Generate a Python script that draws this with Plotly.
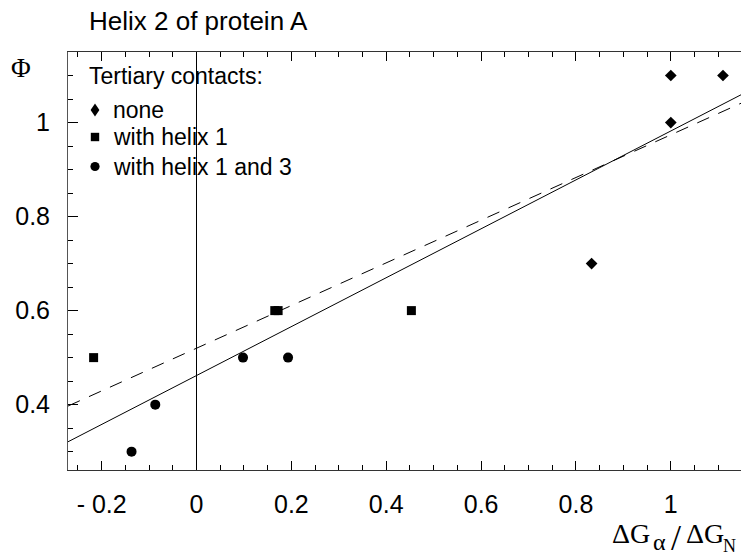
import plotly.graph_objects as go

# ---- data ----
none_x = [1.0, 1.11, 1.0, 0.833]
none_y = [1.1, 1.1, 1.0, 0.7]

helix1_x = [-0.217, 0.165, 0.172, 0.453]
helix1_y = [0.5, 0.6, 0.6, 0.6]

helix13_x = [-0.137, -0.087, 0.098, 0.193]
helix13_y = [0.3, 0.4, 0.5, 0.5]

fit_x = [-0.271, 1.148]
fit_solid_y = [0.321, 1.059]
fit_dashed_y = [0.397, 1.041]

x_tickvals = [-0.2, 0, 0.2, 0.4, 0.6, 0.8, 1.0]
x_ticktext = ["- 0.2", "0", "0.2", "0.4", "0.6", "0.8", "1"]
y_tickvals = [0.4, 0.6, 0.8, 1.0]
y_ticktext = ["0.4", "0.6", "0.8", "1"]

legend_title = "Tertiary contacts:"
legend_labels = ["none", "with helix 1", "with helix 1 and 3"]

SANS = "Liberation Sans, Arial, Helvetica, sans-serif"
SERIF = "Liberation Serif, Times New Roman, serif"

fig = go.Figure()

fig.add_trace(go.Scatter(x=fit_x, y=fit_dashed_y, mode="lines",
                         line=dict(color="black", width=1, dash="13px,10px"),
                         showlegend=False, hoverinfo="skip"))
fig.add_trace(go.Scatter(x=fit_x, y=fit_solid_y, mode="lines",
                         line=dict(color="black", width=1),
                         showlegend=False, hoverinfo="skip"))

fig.add_trace(go.Scatter(x=none_x, y=none_y, mode="markers", name=legend_labels[0],
                         marker=dict(symbol="diamond", size=9, color="black", line=dict(width=0)),
                         showlegend=False))
fig.add_trace(go.Scatter(x=helix1_x, y=helix1_y, mode="markers", name=legend_labels[1],
                         marker=dict(symbol="square", size=9, color="black", line=dict(width=0)),
                         showlegend=False))
fig.add_trace(go.Scatter(x=helix13_x, y=helix13_y, mode="markers", name=legend_labels[2],
                         marker=dict(symbol="circle", size=10, color="black", line=dict(width=0)),
                         showlegend=False))

L, T, B = 68, 52, 90
W, H = 741, 560
pw = W - L
ph = H - T - B

def px(xp):
    return (xp - L) / pw

def py(yp):
    return (H - B - yp) / ph

def ann(text, x, y, size, family, xanchor="left"):
    return dict(text=text, x=px(x), y=py(y), xref="paper", yref="paper",
                xanchor=xanchor, yanchor="middle", showarrow=False,
                font=dict(family=family, size=size, color="black"))

annotations = [
    ann("Helix 2 of protein A", 87, 21, 26, SANS),
    ann("Φ", 21, 68, 27, SERIF, "center"),
    # x-axis title: ΔG_α / ΔG_N
    ann("ΔG", 610, 533, 28, SERIF),
    ann("α", 651, 542, 24, SERIF),
    ann("/", 669, 538, 36, SERIF),
    ann("ΔG", 684, 533, 28, SERIF),
    ann("N", 721, 546, 18, SERIF),
    ann(legend_title, 87, 75.5, 23, SANS),
]
row_y = [110, 137, 166.5]
for lab, yy in zip(legend_labels, row_y):
    annotations.append(ann(lab, 110.7, yy, 23, SANS))

sx = px(95)
shapes = [
    dict(type="path", xref="paper", yref="paper", xsizemode="pixel", ysizemode="pixel",
         xanchor=sx, yanchor=py(row_y[0]), path="M0,6.5 L4.4,0 L0,-6.5 L-4.4,0 Z",
         fillcolor="black", line=dict(width=0)),
    dict(type="rect", xref="paper", yref="paper", xsizemode="pixel", ysizemode="pixel",
         xanchor=sx, yanchor=py(row_y[1]), x0=-4.2, x1=4.2, y0=-4.2, y1=4.2,
         fillcolor="black", line=dict(width=0)),
    dict(type="circle", xref="paper", yref="paper", xsizemode="pixel", ysizemode="pixel",
         xanchor=sx, yanchor=py(row_y[2]), x0=-4.6, x1=4.6, y0=-4.6, y1=4.6,
         fillcolor="black", line=dict(width=0)),
]

fig.update_layout(
    width=W, height=H,
    margin=dict(l=L, r=0, t=T, b=B, pad=0),
    paper_bgcolor="white", plot_bgcolor="white",
    font=dict(family=SANS, size=25, color="black"),
    annotations=annotations,
    shapes=shapes,
    xaxis=dict(range=[-0.271, 1.148], tickmode="array", tickvals=x_tickvals, ticktext=x_ticktext,
               ticks="inside", ticklen=9, tickwidth=1, tickcolor="black",
               showline=True, linecolor="#333", linewidth=1, mirror="ticks",
               showgrid=False, zeroline=True, zerolinecolor="black", zerolinewidth=1,
               ticklabelstandoff=12,
               tickfont=dict(family=SANS, size=25, color="black"),
               minor=dict(tick0=0, dtick=0.05, ticks="inside", ticklen=5, tickcolor="black",
                          showgrid=False)),
    yaxis=dict(range=[0.261, 1.15], tickmode="array", tickvals=y_tickvals, ticktext=y_ticktext,
               ticks="inside", ticklen=10, tickwidth=1, tickcolor="black",
               showline=True, linecolor="#555", linewidth=1, mirror=False,
               showgrid=False, zeroline=False,
               ticklabelstandoff=12,
               tickfont=dict(family=SANS, size=25, color="black"),
               minor=dict(tick0=0, dtick=0.05, ticks="inside", ticklen=5, tickcolor="black",
                          showgrid=False)),
)

fig.write_html("out.html", config={"displayModeBar": False},
               post_script="document.body.style.margin='0';")
